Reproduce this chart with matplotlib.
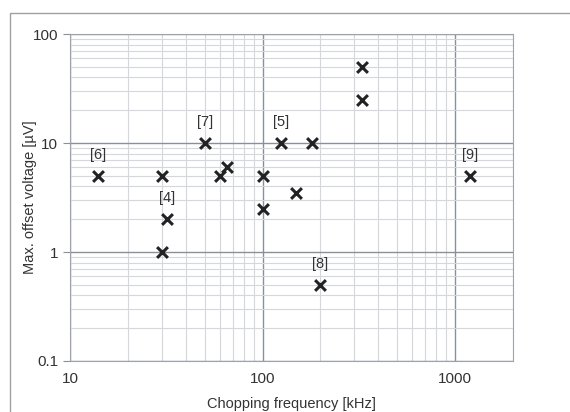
import matplotlib
matplotlib.use("Agg")
import matplotlib.pyplot as plt
from matplotlib.patches import Rectangle

freq = [14, 30, 30, 32, 50, 60, 65, 100, 100, 125, 150, 180, 330, 330, 200, 1200]
offset = [5, 5, 1, 2, 10, 5, 6, 5, 2.5, 10, 3.5, 10, 50, 25, 0.5, 5]
ref_labels = ["[6]", "[4]", "[7]", "[5]", "[8]", "[9]"]
ref_x = [14, 32, 50, 125, 200, 1200]
ref_y = [5, 2, 10, 10, 0.5, 5]

plt.rcParams['font.family'] = ['Liberation Sans', 'DejaVu Sans']

fig = plt.figure(figsize=(5.7, 4.12), dpi=100)
fig.patches.append(Rectangle((10/570, -0.05), 1.0, 1 - 13/412 + 0.05, transform=fig.transFigure,
                             fill=False, edgecolor='#a0a0a0', linewidth=1.0))
ax = fig.add_axes([70/570, 1 - 361/412, (513 - 70)/570, (361 - 34)/412])
ax.set_xscale('log')
ax.set_yscale('log')
ax.set_xlim(10, 2000)
ax.set_ylim(0.1, 100)

ax.grid(True, which='major', color='#8a8f98', linewidth=1.0)
ax.grid(True, which='minor', color='#d4d8de', linewidth=0.8)
ax.set_axisbelow(True)
for s in ax.spines.values():
    s.set_color('#a0a4aa')

ax.scatter(freq, offset, marker='x', s=60, color='#222222', linewidths=2.2, zorder=3)
for lab, x, y in zip(ref_labels, ref_x, ref_y):
    ax.annotate(lab, (x, y), xytext=(0, 10), textcoords='offset points', ha='center',
                va='bottom', fontsize=10.5, color='#333333')

ax.set_xticks([10, 100, 1000])
ax.set_xticklabels(['10', '100', '1000'])
ax.set_yticks([0.1, 1, 10, 100])
ax.set_yticklabels(['0.1', '1', '10', '100'])
ax.tick_params(which='major', labelsize=11, colors='#8a8f98', labelcolor='#333333', length=5)
ax.tick_params(which='minor', length=0)
ax.tick_params(axis='x', which='major', length=0, pad=8)

ax.set_xlabel('Chopping frequency [kHz]', fontsize=10.5, color='#333333')
ax.set_ylabel('Max. offset voltage [µV]', fontsize=10.5, color='#333333')
ax.xaxis.set_label_coords(0.5, -43/327, transform=ax.transAxes)
ax.xaxis.label.set_va('center')
ax.yaxis.set_label_coords(-40/443, 0.5, transform=ax.transAxes)
ax.yaxis.label.set_va('center')

fig.savefig('out.png', dpi=100)
